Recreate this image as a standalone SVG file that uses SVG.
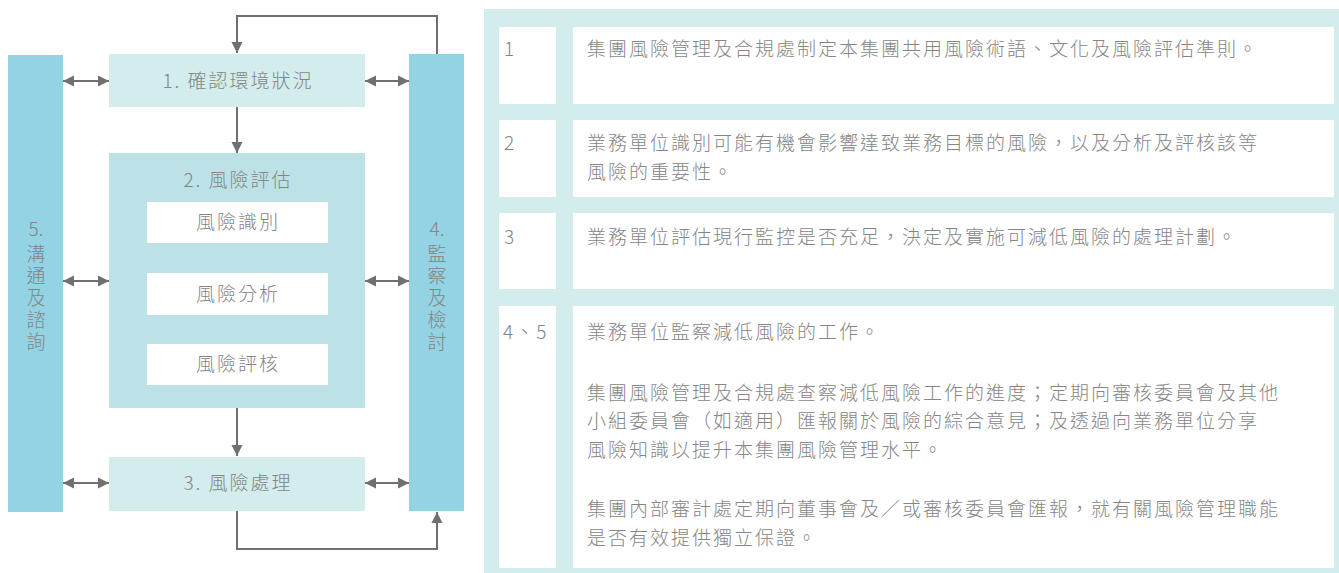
<svg xmlns="http://www.w3.org/2000/svg" width="1339" height="573" viewBox="0 0 1339 573">
<style>
.t{font-family:"Noto Sans CJK TC","Noto Sans CJK SC",sans-serif;font-weight:300;fill:#858585;font-size:19px;letter-spacing:2px}
.v{font-family:"Noto Sans CJK TC","Noto Sans CJK SC",sans-serif;font-weight:300;fill:#858585;font-size:19px;writing-mode:vertical-rl;letter-spacing:3px}
.c{text-anchor:middle}
.bar{fill:#93D3E3}
.lt{fill:#D3ECEC}
.md{fill:#BCE2E8}
.wh{fill:#FFFFFF}
.ln{stroke:#707070;stroke-width:2;fill:none}
</style>
<defs>
<marker id="ah" viewBox="0 0 10 10" refX="10" refY="5" markerUnits="userSpaceOnUse" markerWidth="11" markerHeight="12" orient="auto-start-reverse">
<path d="M0,0 L10,5 L0,10 z" fill="#707070"/>
</marker>
</defs>
<rect width="1339" height="573" fill="#FFFFFF"/>
<g id="node5">
<rect class="bar" x="8" y="55" width="55" height="457"/>
<text class="t c" x="36" y="236" style="letter-spacing:0">5.</text>
<text class="v" x="36" y="244">溝通及諮詢</text>
</g>
<g id="node4">
<rect class="bar" x="409" y="54" width="55" height="457"/>
<text class="t c" x="437" y="236" style="letter-spacing:0">4.</text>
<text class="v" x="437" y="244">監察及檢討</text>
</g>
<g id="node1">
<rect class="lt" x="109" y="54" width="256" height="53"/>
<text class="t c" x="238" y="88">1. 確認環境狀況</text>
</g>
<g id="node2">
<rect class="md" x="109" y="153" width="256" height="255"/>
<text class="t c" x="238" y="187">2. 風險評估</text>
<rect class="wh" x="147" y="202" width="181" height="41"/>
<text class="t c" x="238" y="229">風險識別</text>
<rect class="wh" x="147" y="273" width="181" height="42"/>
<text class="t c" x="238" y="301">風險分析</text>
<rect class="wh" x="147" y="344" width="181" height="41"/>
<text class="t c" x="238" y="371">風險評核</text>
</g>
<g id="node3">
<rect class="lt" x="109" y="457" width="256" height="54"/>
<text class="t c" x="238" y="490">3. 風險處理</text>
</g>
<g id="connectors">
<path class="ln" d="M437,54 V16 H237 V53" marker-end="url(#ah)"/>
<path class="ln" d="M237,511 V549 H437 V512" marker-end="url(#ah)"/>
<path class="ln" d="M237,107 V153" marker-end="url(#ah)"/>
<path class="ln" d="M237,408 V456" marker-end="url(#ah)"/>
<path class="ln" d="M63,81 H109" marker-start="url(#ah)" marker-end="url(#ah)"/>
<path class="ln" d="M63,281 H109" marker-start="url(#ah)" marker-end="url(#ah)"/>
<path class="ln" d="M63,483 H109" marker-start="url(#ah)" marker-end="url(#ah)"/>
<path class="ln" d="M365,81 H409" marker-start="url(#ah)" marker-end="url(#ah)"/>
<path class="ln" d="M365,281 H409" marker-start="url(#ah)" marker-end="url(#ah)"/>
<path class="ln" d="M365,483 H409" marker-start="url(#ah)" marker-end="url(#ah)"/>
</g>
<g id="table">
<rect class="lt" x="484" y="9" width="855" height="564"/>
<g id="row1">
<rect class="wh" x="499" y="27" width="57" height="77"/>
<rect class="wh" x="573" y="27" width="761" height="77"/>
<text class="t" x="504" y="56">1</text>
<text class="t" x="587" y="56">集團風險管理及合規處制定本集團共用風險術語、文化及風險評估準則。</text>
</g>
<g id="row2">
<rect class="wh" x="499" y="120" width="57" height="77"/>
<rect class="wh" x="573" y="120" width="761" height="77"/>
<text class="t" x="504" y="150">2</text>
<text class="t" x="587" y="150">業務單位識別可能有機會影響達致業務目標的風險，以及分析及評核該等</text>
<text class="t" x="587" y="179">風險的重要性。</text>
</g>
<g id="row3">
<rect class="wh" x="499" y="213" width="57" height="76"/>
<rect class="wh" x="573" y="213" width="761" height="76"/>
<text class="t" x="504" y="244">3</text>
<text class="t" x="587" y="244">業務單位評估現行監控是否充足，決定及實施可減低風險的處理計劃。</text>
</g>
<g id="row4">
<rect class="wh" x="499" y="306" width="57" height="262"/>
<rect class="wh" x="573" y="306" width="761" height="262"/>
<text class="t" x="503" y="339">4、5</text>
<text class="t" x="587" y="339">業務單位監察減低風險的工作。</text>
<text class="t" x="587" y="400">集團風險管理及合規處查察減低風險工作的進度；定期向審核委員會及其他</text>
<text class="t" x="587" y="428">小組委員會（如適用）匯報關於風險的綜合意見；及透過向業務單位分享</text>
<text class="t" x="587" y="457">風險知識以提升本集團風險管理水平。</text>
<text class="t" x="587" y="516">集團內部審計處定期向董事會及／或審核委員會匯報，就有關風險管理職能</text>
<text class="t" x="587" y="545">是否有效提供獨立保證。</text>
</g>
</g>
</svg>
